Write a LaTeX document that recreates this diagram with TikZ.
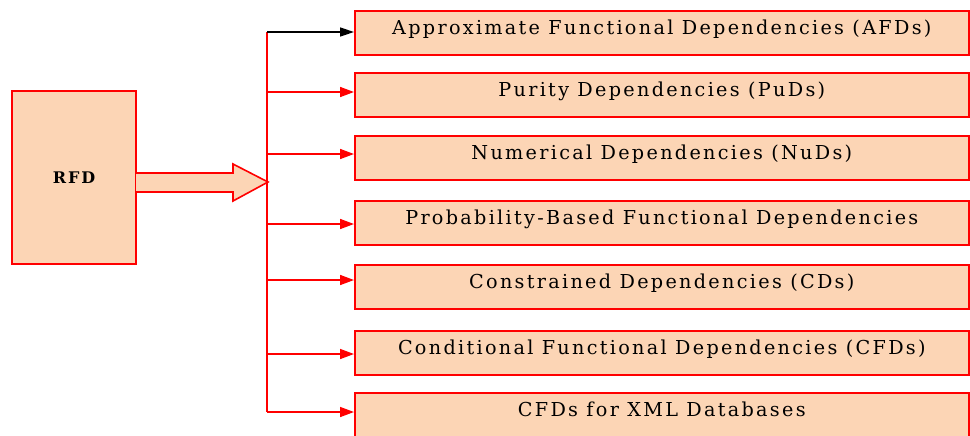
\documentclass[tikz,border=0pt]{standalone}
\usepackage{fontspec}
\setmainfont{DejaVu Serif}[LetterSpace=12]
\usepackage{tikz}
\usetikzlibrary{arrows.meta,calc}

\definecolor{peach}{RGB}{252,213,181}

\tikzset{
  rootbox/.style={draw=red, line width=0.8pt, fill=peach, minimum width=62pt, minimum height=86.5pt, inner sep=0pt, font=\fontsize{8}{9}\selectfont\bfseries},
  catbox/.style={draw=red, line width=0.8pt, fill=peach, minimum width=307pt, minimum height=22pt, inner sep=0pt, text height=7.5pt, text depth=5.5pt, font=\fontsize{9.6}{11}\selectfont},
  trunk/.style={draw=red, line width=0.8pt},
  feed/.style={draw=red, line width=0.8pt, -{Triangle[length=7pt,width=5pt]}}
}

\begin{document}
\begin{tikzpicture}[x=0.5pt,y=-0.5pt]
  \clip (0,0) rectangle (970,435);

  % Root box
  \node[rootbox] (rfd) at (74,177.5) {RFD};

  % Block arrow from the root to the trunk
  \coordinate (sa) at (136,173);
  \coordinate (sb) at (136,192);
  \draw[red, line width=0.8pt, fill=peach] (sa) -- (233,173) -- (233,164) -- (268,182) -- (233,201) -- (233,192) -- (sb);

  % Trunk
  \coordinate (ttop) at (267,32);
  \coordinate (tbot) at (267,412);
  \draw[trunk] (ttop) -- (tbot);

  % Category boxes
  \node[catbox, anchor=north west] (afd) at (354,10)  {Approximate Functional Dependencies (AFDs)};
  \node[catbox, anchor=north west] (pud) at (354,72)  {Purity Dependencies (PuDs)};
  \node[catbox, anchor=north west] (nud) at (354,135) {Numerical Dependencies (NuDs)};
  \node[catbox, anchor=north west] (pfd) at (354,200) {Probability-Based Functional Dependencies};
  \node[catbox, anchor=north west] (cd)  at (354,264) {Constrained Dependencies (CDs)};
  \node[catbox, anchor=north west] (cfd) at (354,330) {Conditional Functional Dependencies (CFDs)};
  \node[catbox, anchor=north west] (xml) at (354,392) {CFDs for XML Databases};

  % Feeds from the trunk
  \draw[feed, draw=black, -{Triangle[length=7pt,width=4.5pt]}] (ttop) -- (ttop -| afd.west);
  \foreach \b/\y in {pud/92, nud/154, pfd/224, cd/280, cfd/354, xml/412}{
    \coordinate (f\b) at (267,\y);
    \draw[feed] (f\b) -- (f\b -| \b.west);
  }
\end{tikzpicture}
\end{document}
